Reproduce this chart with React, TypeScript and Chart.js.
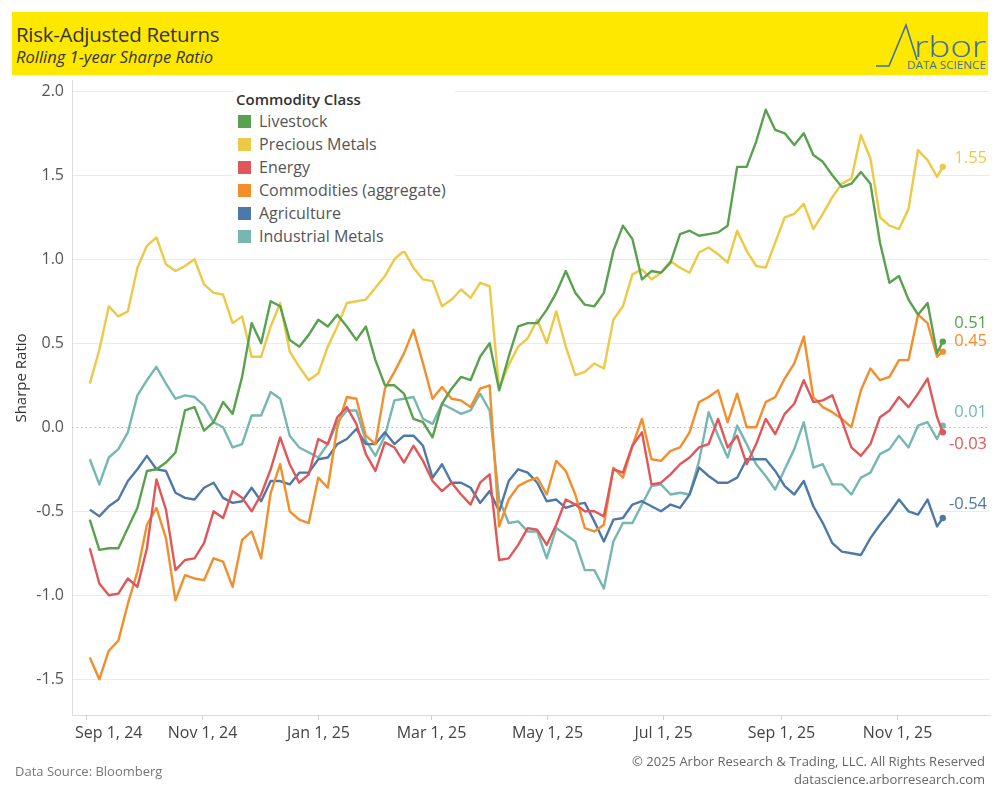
import React, { useEffect, useRef } from "react";
import { Chart, registerables } from "chart.js";

Chart.register(...registerables);

// ---------- DATA ----------
const dates = [
  "2024-09-03", "2024-09-08", "2024-09-13", "2024-09-18", "2024-09-23", "2024-09-28", "2024-10-03", "2024-10-08", "2024-10-13", "2024-10-18",
  "2024-10-23", "2024-10-28", "2024-11-02", "2024-11-07", "2024-11-12", "2024-11-17", "2024-11-22", "2024-11-27", "2024-12-02", "2024-12-07",
  "2024-12-12", "2024-12-17", "2024-12-22", "2024-12-27", "2025-01-01", "2025-01-06", "2025-01-11", "2025-01-16", "2025-01-21", "2025-01-26",
  "2025-01-31", "2025-02-05", "2025-02-10", "2025-02-15", "2025-02-20", "2025-02-25", "2025-03-02", "2025-03-07", "2025-03-12", "2025-03-17",
  "2025-03-22", "2025-03-27", "2025-04-01", "2025-04-06", "2025-04-11", "2025-04-16", "2025-04-21", "2025-04-26", "2025-05-01", "2025-05-06",
  "2025-05-11", "2025-05-16", "2025-05-21", "2025-05-26", "2025-05-31", "2025-06-05", "2025-06-10", "2025-06-15", "2025-06-20", "2025-06-25",
  "2025-06-30", "2025-07-05", "2025-07-10", "2025-07-15", "2025-07-20", "2025-07-25", "2025-07-30", "2025-08-04", "2025-08-09", "2025-08-14",
  "2025-08-19", "2025-08-24", "2025-08-29", "2025-09-03", "2025-09-08", "2025-09-13", "2025-09-18", "2025-09-23", "2025-09-28", "2025-10-03",
  "2025-10-08", "2025-10-13", "2025-10-18", "2025-10-23", "2025-10-28", "2025-11-02", "2025-11-07", "2025-11-12", "2025-11-17", "2025-11-22",
  "2025-11-25",
];

const livestock = [
  -0.55, -0.73, -0.72, -0.72, -0.60, -0.48, -0.26, -0.25, -0.21, -0.15,
  0.10, 0.12, -0.02, 0.03, 0.15, 0.08, 0.30, 0.62, 0.50, 0.75,
  0.72, 0.52, 0.48, 0.55, 0.64, 0.60, 0.67, 0.60, 0.52, 0.60,
  0.40, 0.25, 0.25, 0.20, 0.05, 0.03, -0.06, 0.14, 0.23, 0.30,
  0.28, 0.42, 0.50, 0.22, 0.42, 0.60, 0.62, 0.62, 0.70, 0.80,
  0.93, 0.80, 0.73, 0.72, 0.80, 1.05, 1.20, 1.12, 0.88, 0.93,
  0.92, 0.98, 1.15, 1.17, 1.14, 1.15, 1.16, 1.20, 1.55, 1.55,
  1.70, 1.89, 1.77, 1.75, 1.68, 1.75, 1.62, 1.58, 1.50, 1.43,
  1.45, 1.52, 1.45, 1.10, 0.86, 0.90, 0.76, 0.67, 0.74, 0.44,
  0.51,
];

const preciousMetals = [
  0.26, 0.46, 0.72, 0.66, 0.69, 0.95, 1.08, 1.13, 0.97, 0.93,
  0.96, 1.00, 0.85, 0.80, 0.79, 0.62, 0.66, 0.42, 0.42, 0.60,
  0.74, 0.45, 0.36, 0.28, 0.32, 0.48, 0.60, 0.74, 0.75, 0.76,
  0.83, 0.90, 1.00, 1.05, 0.95, 0.88, 0.87, 0.72, 0.76, 0.82,
  0.77, 0.86, 0.84, 0.23, 0.37, 0.48, 0.53, 0.64, 0.50, 0.69,
  0.48, 0.31, 0.33, 0.38, 0.35, 0.64, 0.72, 0.91, 0.94, 0.88,
  0.92, 0.99, 0.95, 0.92, 1.04, 1.07, 1.03, 0.98, 1.17, 1.05,
  0.96, 0.95, 1.10, 1.25, 1.27, 1.33, 1.18, 1.27, 1.37, 1.45,
  1.48, 1.74, 1.60, 1.25, 1.20, 1.18, 1.30, 1.65, 1.59, 1.49,
  1.55,
];

const energy = [
  -0.72, -0.93, -1.00, -0.99, -0.90, -0.95, -0.72, -0.31, -0.49, -0.85,
  -0.79, -0.78, -0.69, -0.50, -0.54, -0.38, -0.42, -0.50, -0.40, -0.25,
  -0.06, -0.22, -0.33, -0.28, -0.07, -0.10, 0.06, 0.12, 0.02, -0.16,
  -0.26, -0.09, -0.12, -0.21, -0.11, -0.20, -0.32, -0.38, -0.33, -0.40,
  -0.46, -0.33, -0.28, -0.79, -0.78, -0.70, -0.60, -0.61, -0.70, -0.58,
  -0.43, -0.46, -0.50, -0.50, -0.53, -0.25, -0.27, -0.11, -0.03, -0.34,
  -0.33, -0.28, -0.22, -0.18, -0.12, -0.10, 0.05, -0.12, -0.05, -0.22,
  -0.10, 0.05, -0.04, 0.08, 0.14, 0.28, 0.15, 0.16, 0.19, 0.04,
  -0.12, -0.17, -0.10, 0.06, 0.10, 0.18, 0.12, 0.20, 0.29, 0.06,
  -0.03,
];

const commodities = [
  -1.37, -1.50, -1.33, -1.27, -1.05, -0.86, -0.58, -0.48, -0.66, -1.03,
  -0.88, -0.90, -0.91, -0.78, -0.80, -0.95, -0.67, -0.62, -0.78, -0.39,
  -0.22, -0.50, -0.55, -0.57, -0.30, -0.36, 0.00, 0.18, 0.17, -0.05,
  -0.10, 0.23, 0.33, 0.44, 0.58, 0.38, 0.17, 0.24, 0.17, 0.16,
  0.12, 0.23, 0.25, -0.59, -0.43, -0.35, -0.32, -0.30, -0.40, -0.20,
  -0.26, -0.40, -0.60, -0.62, -0.58, -0.24, -0.30, -0.11, 0.05, -0.19,
  -0.20, -0.14, -0.12, -0.03, 0.15, 0.18, 0.22, 0.03, 0.20, 0.00,
  0.00, 0.15, 0.18, 0.29, 0.38, 0.54, 0.18, 0.12, 0.09, 0.05,
  0.00, 0.22, 0.35, 0.28, 0.30, 0.40, 0.40, 0.67, 0.62, 0.42,
  0.45,
];

const agriculture = [
  -0.49, -0.53, -0.47, -0.43, -0.32, -0.25, -0.17, -0.25, -0.26, -0.39,
  -0.42, -0.43, -0.36, -0.33, -0.42, -0.45, -0.44, -0.36, -0.44, -0.32,
  -0.32, -0.34, -0.27, -0.27, -0.19, -0.18, -0.10, -0.07, -0.01, -0.10,
  -0.10, -0.03, -0.10, -0.05, -0.05, -0.11, -0.30, -0.22, -0.33, -0.33,
  -0.36, -0.45, -0.38, -0.50, -0.32, -0.25, -0.27, -0.33, -0.44, -0.43,
  -0.48, -0.46, -0.45, -0.56, -0.68, -0.55, -0.54, -0.46, -0.44, -0.47,
  -0.50, -0.46, -0.48, -0.40, -0.24, -0.29, -0.33, -0.33, -0.30, -0.19,
  -0.19, -0.19, -0.26, -0.35, -0.40, -0.32, -0.47, -0.57, -0.69, -0.74,
  -0.75, -0.76, -0.66, -0.58, -0.51, -0.43, -0.50, -0.52, -0.43, -0.59,
  -0.54,
];

const industrialMetals = [
  -0.19, -0.34, -0.18, -0.13, -0.03, 0.19, 0.28, 0.36, 0.26, 0.17,
  0.19, 0.18, 0.13, 0.03, 0.00, -0.12, -0.10, 0.07, 0.07, 0.21,
  0.17, -0.05, -0.12, -0.15, -0.18, -0.10, 0.03, 0.10, 0.10, -0.08,
  -0.17, -0.05, 0.16, 0.17, 0.18, 0.05, 0.02, 0.14, 0.11, 0.08,
  0.10, 0.20, 0.10, -0.43, -0.57, -0.56, -0.62, -0.62, -0.78, -0.60,
  -0.64, -0.68, -0.85, -0.85, -0.96, -0.68, -0.57, -0.57, -0.46, -0.35,
  -0.34, -0.40, -0.39, -0.40, -0.20, 0.09, -0.05, -0.18, 0.01, -0.10,
  -0.22, -0.29, -0.37, -0.25, -0.13, 0.03, -0.24, -0.22, -0.34, -0.34,
  -0.40, -0.30, -0.27, -0.16, -0.13, -0.05, -0.12, 0.01, 0.03, -0.07,
  0.01,
];

const tickDates = ["2024-09-01", "2024-11-01", "2025-01-01", "2025-03-01", "2025-05-01", "2025-07-01", "2025-09-01", "2025-11-01"];
const tickLabels = ["Sep 1, 24", "Nov 1, 24", "Jan 1, 25", "Mar 1, 25", "May 1, 25", "Jul 1, 25", "Sep 1, 25", "Nov 1, 25"];
const yTickValues = [-1.5, -1.0, -0.5, 0, 0.5, 1.0, 1.5, 2.0];

const seriesNames = ["Livestock", "Precious Metals", "Energy", "Commodities (aggregate)", "Agriculture", "Industrial Metals"];
const seriesValues = [livestock, preciousMetals, energy, commodities, agriculture, industrialMetals];

// ---------- STYLE ----------
const seriesColors = ["#59a14f", "#edc948", "#e15759", "#f28e2b", "#4e79a7", "#76b7b2"];
const endLabelDy = [-18, -9, 12, -10, -14, -13];

const FONT = "'Open Sans', 'Noto Sans', sans-serif";
const ORIGIN = Date.UTC(2024, 8, 1);
const toDay = (s: string) => {
  const [yy, mm, dd] = s.split("-").map(Number);
  return (Date.UTC(yy, mm - 1, dd) - ORIGIN) / 86400000;
};
const dayValues = dates.map(toDay);
const tickDays = tickDates.map(toDay);

const X_MIN = -7.35;
const X_MAX = 474.8;
const Y_MIN = -1.7125;
const Y_MAX = 2.067;

const overlayPlugin = {
  id: "overlay",
  beforeDatasetsDraw(chart: any) {
    const { ctx, chartArea, scales } = chart;
    const y0 = Math.round(scales.y.getPixelForValue(0)) + 0.5;
    ctx.save();
    ctx.strokeStyle = "#b8b8b8";
    ctx.lineWidth = 1;
    ctx.setLineDash([1.5, 3]);
    ctx.beginPath();
    ctx.moveTo(chartArea.left, y0);
    ctx.lineTo(chartArea.right, y0);
    ctx.stroke();
    ctx.restore();
  },
  afterDraw(chart: any) {
    const { ctx, chartArea, scales } = chart;
    ctx.save();
    // y labels
    ctx.font = `16px ${FONT}`;
    ctx.fillStyle = "#555";
    ctx.textAlign = "right";
    ctx.textBaseline = "middle";
    yTickValues.forEach((v) => {
      ctx.fillText(v.toFixed(1), chartArea.left - 8, scales.y.getPixelForValue(v));
    });
    // x ticks + labels
    ctx.strokeStyle = "#cfcfcf";
    ctx.lineWidth = 1;
    ctx.textAlign = "center";
    ctx.fillStyle = "#444";
    ctx.font = `16px ${FONT}`;
    tickDays.forEach((d, i) => {
      const x = Math.round(scales.x.getPixelForValue(d)) + 0.5;
      ctx.beginPath();
      ctx.moveTo(x, chartArea.bottom);
      ctx.lineTo(x, chartArea.bottom + 5);
      ctx.stroke();
      const w = ctx.measureText(tickLabels[i]).width;
      const cx = Math.max(x, chartArea.left + 3 + w / 2);
      ctx.fillText(tickLabels[i], cx, chartArea.bottom + 18);
    });
    // axis title
    ctx.save();
    ctx.translate(22, 378);
    ctx.rotate(-Math.PI / 2);
    ctx.fillStyle = "#333";
    ctx.font = `15px ${FONT}`;
    ctx.textAlign = "center";
    ctx.fillText("Sharpe Ratio", 0, 0);
    ctx.restore();
    // end labels
    ctx.textAlign = "right";
    ctx.font = `16.5px ${FONT}`;
    seriesValues.forEach((vals, i) => {
      const last = vals[vals.length - 1];
      const py = scales.y.getPixelForValue(last);
      ctx.fillStyle = seriesColors[i];
      ctx.fillText(last.toFixed(2), 987, py + endLabelDy[i]);
    });
    ctx.restore();
  },
};

export default function App() {
  const canvasRef = useRef<HTMLCanvasElement | null>(null);

  useEffect(() => {
    if (!canvasRef.current) return;
    const n = dates.length;
    const chart = new Chart(canvasRef.current, {
      type: "line",
      data: {
        datasets: seriesNames.map((name, i) => ({
          label: name,
          data: seriesValues[i].map((v, j) => ({ x: dayValues[j], y: v })),
          borderColor: seriesColors[i],
          backgroundColor: seriesColors[i],
          borderWidth: 2.4,
          borderJoinStyle: "round" as const,
          tension: 0,
          pointRadius: (c: any) => (c.dataIndex === n - 1 ? 3.2 : 0),
          pointBorderWidth: 0,
          pointBackgroundColor: seriesColors[i],
          fill: false,
        })),
      },
      options: {
        animation: false,
        responsive: false,
        maintainAspectRatio: false,
        layout: { padding: { left: 72, right: 10, top: 80, bottom: 85 } },
        plugins: { legend: { display: false }, tooltip: { enabled: false } },
        scales: {
          x: {
            type: "linear",
            min: X_MIN,
            max: X_MAX,
            grid: { display: false, drawTicks: false },
            border: { display: true, color: "#dcdcdc" },
            ticks: { display: false },
            afterBuildTicks: (s: any) => {
              s.ticks = tickDays.map((v) => ({ value: v }));
            },
          },
          y: {
            type: "linear",
            min: Y_MIN,
            max: Y_MAX,
            grid: {
              drawTicks: false,
              color: (c: any) => (c.tick && c.tick.value === 0 ? "rgba(0,0,0,0)" : "#ebebeb"),
            },
            border: { display: true, color: "#dcdcdc" },
            ticks: { display: false },
            afterBuildTicks: (s: any) => {
              s.ticks = yTickValues.map((v) => ({ value: v }));
            },
          },
        },
      },
      plugins: [overlayPlugin],
    } as any);
    return () => chart.destroy();
  }, []);

  const legendTops = [114, 137, 160, 183, 206, 229];

  return (
    <div style={{ position: "absolute", left: 0, top: 0, width: 1000, height: 800, background: "#fff", fontFamily: FONT, overflow: "hidden" }}>
      <canvas ref={canvasRef} width={1000} height={800} style={{ position: "absolute", left: 0, top: 0, width: 1000, height: 800 }} />
      {/* header */}
      <div style={{ position: "absolute", left: 12, top: 12, width: 976, height: 63, background: "#ffe800" }} />
      <div style={{ position: "absolute", left: 16, top: 20, fontSize: 20.5, lineHeight: "28px", fontWeight: 500, color: "#333", letterSpacing: -0.3 }}>
        Risk-Adjusted Returns
      </div>
      <div style={{ position: "absolute", left: 16, top: 46, fontSize: 16.5, lineHeight: "22px", fontStyle: "italic", color: "#333" }}>
        Rolling 1-year Sharpe Ratio
      </div>
      <svg style={{ position: "absolute", left: 0, top: 0 }} width={1000} height={80}>
        <polyline points="876,66 889,66 906,25 917,60" fill="none" stroke="#3d6fa6" strokeWidth={1.6} />
        <text x={914} y={57} fontSize={30} fontWeight={300} fill="#3d6fa6" textLength={72} lengthAdjust="spacingAndGlyphs" fontFamily={FONT}>rbor</text>
        <text x={907} y={69} fontSize={10.5} fill="#3d6fa6" textLength={79} lengthAdjust="spacingAndGlyphs" fontFamily={FONT}>DATA SCIENCE</text>
      </svg>
      {/* legend */}
      <div style={{ position: "absolute", left: 233, top: 83, width: 222, height: 168, background: "#fff" }} />
      <div style={{ position: "absolute", left: 236, top: 89, fontSize: 15, lineHeight: "21px", fontWeight: 600, color: "#333" }}>
        Commodity Class
      </div>
      {seriesNames.map((name, i) => (
        <div key={name} style={{ position: "absolute", left: 238, top: legendTops[i], height: 14, display: "flex", alignItems: "center" }}>
          <div style={{ width: 13, height: 13, background: seriesColors[i] }} />
          <div style={{ marginLeft: 8, fontSize: 16, lineHeight: "14px", color: "#555", whiteSpace: "nowrap" }}>{name}</div>
        </div>
      ))}
      {/* footer */}
      <div style={{ position: "absolute", left: 15, top: 762, fontSize: 13, lineHeight: "18px", color: "#777" }}>Data Source: Bloomberg</div>
      <div style={{ position: "absolute", right: 15, top: 752, fontSize: 13, lineHeight: "18px", color: "#666", textAlign: "right" }}>
        © 2025 Arbor Research &amp; Trading, LLC. All Rights Reserved
      </div>
      <div style={{ position: "absolute", right: 15, top: 770, fontSize: 13, lineHeight: "18px", color: "#666", textAlign: "right" }}>
        datascience.arborresearch.com
      </div>
    </div>
  );
}
